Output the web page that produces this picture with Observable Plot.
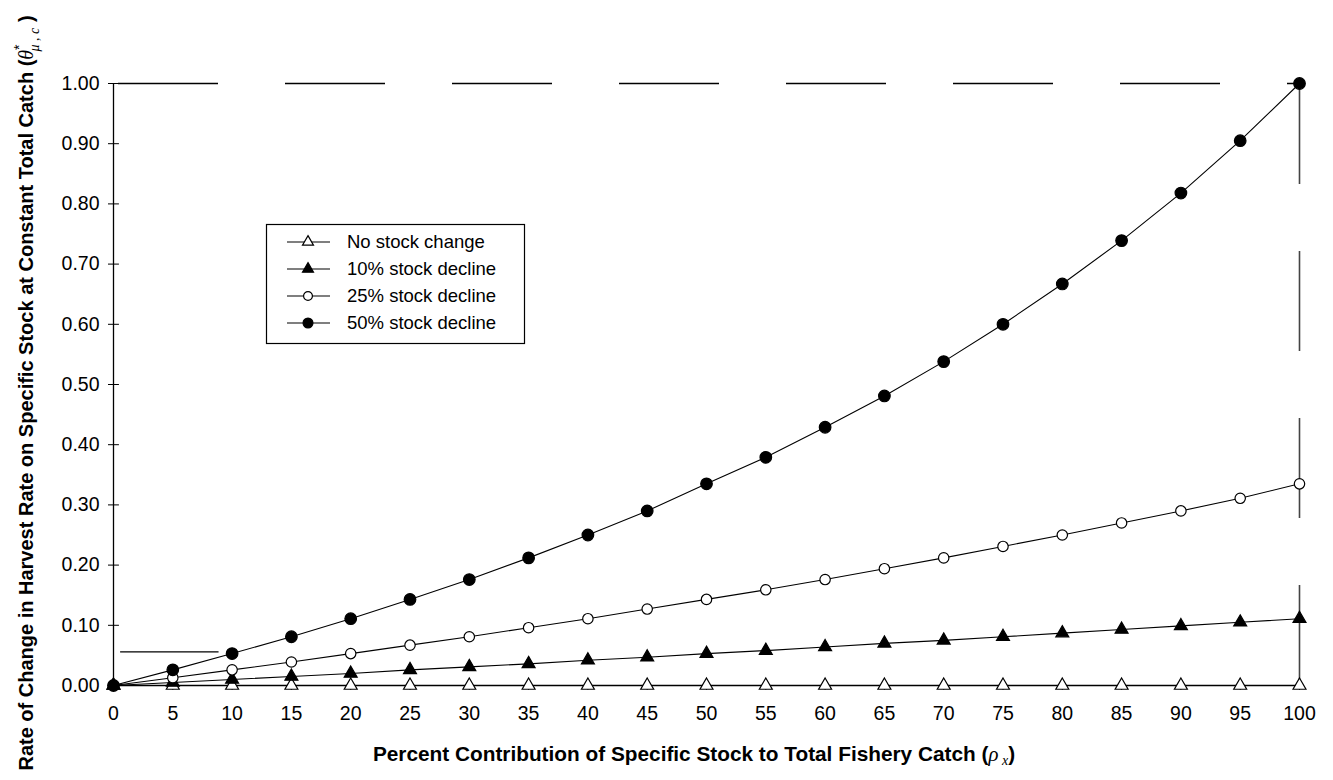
<!DOCTYPE html>
<html>
<head>
<meta charset="utf-8">
<script src="https://cdn.jsdelivr.net/npm/d3@7"></script>
<script src="https://cdn.jsdelivr.net/npm/@observablehq/plot@0.6"></script>
<style>
  html, body { margin: 0; padding: 0; background: white; }
  #chart { width: 1333px; height: 780px; }
</style>
</head>
<body>
<div id="chart"></div>
<script>
// ---- data ----
const percentContribution = [0, 5, 10, 15, 20, 25, 30, 35, 40, 45, 50, 55, 60, 65, 70, 75, 80, 85, 90, 95, 100];
const noStockChange   = [0, 0, 0, 0, 0, 0, 0, 0, 0, 0, 0, 0, 0, 0, 0, 0, 0, 0, 0, 0, 0];
const decline10       = [0, 0.005, 0.010, 0.015, 0.020, 0.026, 0.031, 0.036, 0.042, 0.047, 0.053, 0.058, 0.064, 0.070, 0.075, 0.081, 0.087, 0.093, 0.099, 0.105, 0.111];
const decline25       = [0, 0.013, 0.026, 0.039, 0.053, 0.067, 0.081, 0.096, 0.111, 0.127, 0.143, 0.159, 0.176, 0.194, 0.212, 0.231, 0.250, 0.270, 0.290, 0.311, 0.335];
const decline50       = [0, 0.026, 0.053, 0.081, 0.111, 0.143, 0.176, 0.212, 0.250, 0.290, 0.335, 0.379, 0.429, 0.481, 0.538, 0.600, 0.667, 0.739, 0.818, 0.905, 1.000];
const seriesNames     = ["No stock change", "10% stock decline", "25% stock decline", "50% stock decline"];
const xTicks = [0, 5, 10, 15, 20, 25, 30, 35, 40, 45, 50, 55, 60, 65, 70, 75, 80, 85, 90, 95, 100];
const yTicks = [0, 0.1, 0.2, 0.3, 0.4, 0.5, 0.6, 0.7, 0.8, 0.9, 1.0];
const topRefY = [1.0];          // dashed line at top
const rightRefX = [100];        // dashed line at right
const shortRef = [{y: 0.056, x1: 0.6, x2: 8.9}]; // short stray line

const seriesValues = [noStockChange, decline10, decline25, decline50];
const rows = [];
seriesNames.forEach((name, i) => {
  percentContribution.forEach((x, j) => rows.push({series: name, x, y: seriesValues[i][j]}));
});
const bySeries = name => rows.filter(d => d.series === name);

const FONT = "'Liberation Sans', Arial, Helvetica, sans-serif";
const markerStyle = {
  "No stock change":   {symbol: "triangle", r: 4.8, fill: "white"},
  "10% stock decline": {symbol: "triangle", r: 4.8, fill: "black"},
  "25% stock decline": {symbol: "circle",   r: 5.2, fill: "white"},
  "50% stock decline": {symbol: "circle",   r: 5.8, fill: "black"}
};

const chart = Plot.plot({
  width: 1333,
  height: 780,
  marginLeft: 113,
  marginRight: 34,
  marginTop: 83,
  marginBottom: 95,
  style: {fontFamily: FONT, fontSize: "19.5px", color: "black", background: "white"},
  x: {domain: [0, 100]},
  y: {domain: [0, 1]},
  marks: [
    Plot.axisX({ticks: xTicks, tickSize: 5, tickPadding: 16, label: null, tickFormat: d => String(d), fontSize: 19.5}),
    Plot.axisY({ticks: yTicks, tickSize: 5, tickPadding: 9, label: null, tickFormat: d3.format(".2f"), fontSize: 19.5}),
    Plot.ruleY(yTicks, {x1: 0, x2: 0.5, stroke: "black", strokeWidth: 1}),
    Plot.ruleX([0], {y1: 0, y2: 1, stroke: "black", strokeWidth: 1.3}),
    Plot.ruleY([0], {x1: 0, x2: 100, stroke: "black", strokeWidth: 1.3}),
    Plot.ruleY(topRefY, {x1: 0, x2: 100, stroke: "black", strokeWidth: 1.3, strokeDasharray: "100,67", strokeDashoffset: -5}),
    Plot.ruleX(rightRefX, {y1: 0, y2: 1, stroke: "#444", strokeWidth: 1.6, strokeDasharray: "100,67"}),
    Plot.ruleY(shortRef, {y: "y", x1: "x1", x2: "x2", stroke: "black", strokeWidth: 1.2}),
    Plot.line(rows, {x: "x", y: "y", z: "series", stroke: "black", strokeWidth: 1.1}),
    ...seriesNames.map(name => Plot.dot(bySeries(name), {
      x: "x", y: "y",
      symbol: markerStyle[name].symbol,
      r: markerStyle[name].r,
      fill: markerStyle[name].fill,
      stroke: "black",
      strokeWidth: 1.2
    }))
  ]
});

document.getElementById("chart").appendChild(chart);

// ---- titles and legend (text kept as real text) ----
const svg = d3.select(chart);

// x-axis title
const xt = svg.append("text")
  .attr("x", 694).attr("y", 761)
  .attr("text-anchor", "middle")
  .attr("font-family", FONT).attr("font-size", 20.8).attr("font-weight", "bold")
  .attr("fill", "black");
xt.append("tspan").text("Percent Contribution of Specific Stock to Total Fishery Catch (");
xt.append("tspan").attr("font-style", "italic").attr("font-weight", "normal").attr("font-family", "'Liberation Serif', serif").text("ρ");
xt.append("tspan").attr("font-style", "italic").attr("font-weight", "normal").attr("font-family", "'Liberation Serif', serif").attr("font-size", 14).attr("dy", 4).text(" x");
xt.append("tspan").attr("dy", -4).text(")");

// y-axis title
const yt = svg.append("text")
  .attr("transform", "translate(33,393) rotate(-90)")
  .attr("text-anchor", "middle")
  .attr("font-family", FONT).attr("font-size", 20).attr("font-weight", "bold")
  .attr("fill", "black");
yt.append("tspan").text("Rate of Change in Harvest Rate on Specific Stock at Constant Total Catch (");
yt.append("tspan").attr("font-style", "italic").attr("font-weight", "normal").attr("font-family", "'Liberation Serif', serif").text("θ");
yt.append("tspan").attr("font-weight", "normal").attr("font-size", 14).attr("dy", -9).text("*");
yt.append("tspan").attr("font-style", "italic").attr("font-weight", "normal").attr("font-family", "'Liberation Serif', serif").attr("font-size", 14).attr("dx", -7).attr("dy", 15).text("μ , c");
yt.append("tspan").attr("dy", -6).text(" )");

// legend
const lg = svg.append("g").attr("font-family", FONT).attr("font-size", 18.5);
lg.append("rect").attr("x", 266.5).attr("y", 224.5).attr("width", 258).attr("height", 119)
  .attr("fill", "white").attr("stroke", "black").attr("stroke-width", 1.2);
seriesNames.forEach((name, i) => {
  const cy = 242 + i * 27;
  const m = markerStyle[name];
  lg.append("line").attr("x1", 287).attr("x2", 330).attr("y1", cy).attr("y2", cy)
    .attr("stroke", "black").attr("stroke-width", 1.1);
  const sym = m.symbol === "triangle" ? d3.symbolTriangle : d3.symbolCircle;
  const lr = m.r * 0.85;
  lg.append("path").attr("transform", `translate(308,${cy})`)
    .attr("d", d3.symbol(sym, lr * lr * Math.PI)())
    .attr("fill", m.fill).attr("stroke", "black").attr("stroke-width", 1.2);
  lg.append("text").attr("x", 347).attr("y", cy).attr("dy", "0.35em")
    .attr("text-anchor", "start").attr("fill", "black").text(name);
});
</script>
</body>
</html>
